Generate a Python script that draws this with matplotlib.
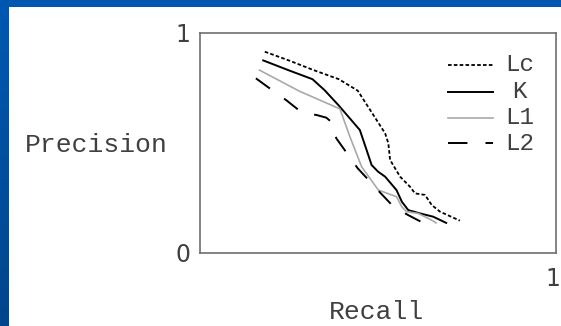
import numpy as np
import matplotlib
matplotlib.use("Agg")
import matplotlib.pyplot as plt
from matplotlib.lines import Line2D
from matplotlib.colors import LinearSegmentedColormap
from matplotlib.transforms import ScaledTranslation

plt.rcParams["lines.scale_dashes"] = False

# Precision-recall curves for four retrieval methods
recall_lc = [0.182, 0.25, 0.318, 0.39, 0.443, 0.478, 0.520, 0.529, 0.534, 0.562, 0.59, 0.604, 0.632, 0.651, 0.674, 0.73]
prec_lc = [0.915, 0.875, 0.832, 0.79, 0.738, 0.65, 0.544, 0.499, 0.423, 0.347, 0.301, 0.271, 0.264, 0.218, 0.188, 0.147]

recall_k = [0.175, 0.25, 0.316, 0.35, 0.39, 0.449, 0.468, 0.482, 0.50, 0.52, 0.552, 0.567, 0.585, 0.618, 0.655, 0.694]
prec_k = [0.877, 0.83, 0.79, 0.74, 0.67, 0.559, 0.468, 0.40, 0.37, 0.347, 0.286, 0.233, 0.195, 0.18, 0.165, 0.135]

recall_l1 = [0.165, 0.28, 0.393, 0.421, 0.454, 0.501, 0.552, 0.567, 0.58, 0.613, 0.65, 0.665]
prec_l1 = [0.833, 0.735, 0.655, 0.529, 0.392, 0.286, 0.256, 0.21, 0.188, 0.18, 0.15, 0.135]

recall_l2 = [0.157, 0.202, 0.242, 0.277, 0.30, 0.328, 0.355, 0.368, 0.376, 0.383, 0.413, 0.443, 0.478, 0.508, 0.544, 0.584, 0.629]
prec_l2 = [0.794, 0.741, 0.695, 0.65, 0.635, 0.627, 0.615, 0.597, 0.56, 0.521, 0.453, 0.385, 0.324, 0.271, 0.21, 0.173, 0.135]

series_names = ["Lc", "K", "L1", "L2"]
y_ticks = [0, 1]
x_ticks = [1]

W, H = 561, 326
fig = plt.figure(figsize=(W / 100, H / 100), dpi=100)
fig.patch.set_facecolor("white")

# slide frame: blue band along the top and left edge
bg = fig.add_axes([0, 0, 1, 1], zorder=-10)
bg.set_xlim(0, W)
bg.set_ylim(H, 0)
bg.axis("off")
grad = np.linspace(0, 1, 256).reshape(-1, 1)
blue_cmap = LinearSegmentedColormap.from_list("slide", ["#0058b2", "#00468c"])
bg.imshow(grad, cmap=blue_cmap, extent=(0, 8.5, H, 0), aspect="auto")
bg.add_patch(plt.Rectangle((0, 0), W, 7, color="#0057b0", lw=0))

mono = ["Liberation Mono", "DejaVu Sans Mono"]
text_col = "#404040"

ax = fig.add_axes([200 / W, (H - 253) / H, 356 / W, 220 / H])
ax.set_xlim(0, 1)
ax.set_ylim(0, 1)
for sp in ax.spines.values():
    sp.set_color("#6e6e6e")
    sp.set_linewidth(1.2)
ax.tick_params(length=0, pad=7, labelsize=17, colors=text_col)
ax.set_yticks(y_ticks)
ax.set_yticklabels([str(v) for v in y_ticks])
ax.set_xticks(x_ticks)
ax.set_xticklabels([str(v) for v in x_ticks])
ax.tick_params(axis="x", pad=10)
# nudge the lone x tick label slightly inward from the figure edge
for lbl in ax.get_xticklabels():
    lbl.set_transform(lbl.get_transform() + ScaledTranslation(-3 / 100, 0, fig.dpi_scale_trans))

styles = {
    "Lc": dict(color="black", lw=1.3, dashes=(2.6, 1.6)),
    "K": dict(color="black", lw=1.4, linestyle="-"),
    "L1": dict(color="#a9a9a9", lw=1.2, linestyle="-"),
    "L2": dict(color="black", lw=1.4, dashes=(12.5, 12.5)),
}
data = {
    "Lc": (recall_lc, prec_lc),
    "K": (recall_k, prec_k),
    "L1": (recall_l1, prec_l1),
    "L2": (recall_l2, prec_l2),
}
for name in series_names:
    xs, ys = data[name]
    ax.plot(xs, ys, solid_capstyle="butt", dash_capstyle="butt", **styles[name])

# key drawn inside the plot area, labels centred in their column
key_y = [0.855, 0.732, 0.614, 0.50]
for name, yk in zip(series_names, key_y):
    st = dict(styles[name])
    if name == "L2":
        st["dashes"] = (14, 13)
    ax.add_line(Line2D([0.697, 0.823], [yk, yk], transform=ax.transAxes, **st))
    ax.text(0.897, yk, name, transform=ax.transAxes, ha="center", va="center",
            family=mono, fontsize=17.5, color=text_col)

fig.text(96 / W, 1 - 145 / H, "Precision", ha="center", va="center",
         family=mono, fontsize=19, color=text_col)
fig.text(376 / W, 1 - 312 / H, "Recall", ha="center", va="center",
         family=mono, fontsize=19, color=text_col)

fig.savefig("out.png", dpi=100)
